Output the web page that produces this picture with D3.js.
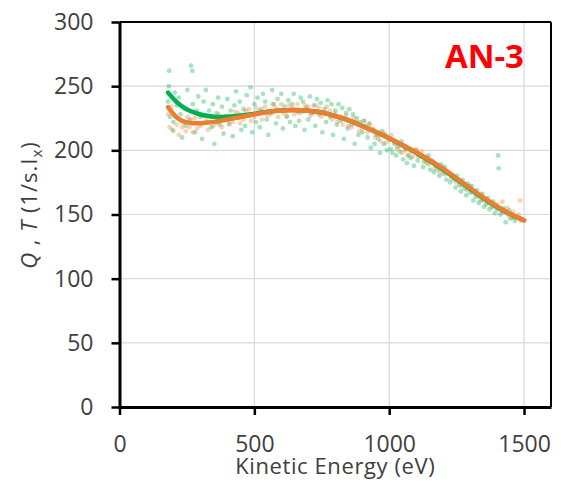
<!DOCTYPE html>
<html>
<head>
<meta charset="utf-8">
<script src="https://cdn.jsdelivr.net/npm/d3@7"></script>
<style>
  body { margin: 0; background: #fff; }
  svg { display: block; }
  .tick text { font-family: "Open Sans", sans-serif; font-weight: 400; font-size: 23px; fill: #404040; }
</style>
</head>
<body>
<div id="chart"></div>
<script>
// Chart dimensions
var width = 561, height = 483;
var margin = {top: 22, right: 10, bottom: 76, left: 119.5};

var xTicks = [0, 500, 1000, 1500];
var yTicks = [0, 50, 100, 150, 200, 250, 300];

// Measured points, Q (green), [kinetic energy, value]
var greenPts = [
  [180,238],[184,262],[188,226],[183,250],[200,222],[205,245],[212,235],[196,216],
  [220,241],[226,228],[232,210],[240,233],[246,219],[252,247],[260,224],[265,266],
  [270,262],[272,236],[280,214],[286,231],[292,242],[300,226],[306,209],[312,238],
  [320,247],[326,222],[332,231],[340,218],[346,236],[352,205],[360,229],[366,241],
  [372,220],[380,234],[386,213],[392,226],[400,240],[406,221],[412,231],[420,211],
  [426,235],[432,246],[440,225],[446,238],[452,216],[460,232],[466,219],[472,243],
  [480,227],[486,249],[492,214],[500,236],[506,222],[512,241],[520,218],[526,232],
  [532,244],[540,238],[546,224],[552,212],[560,229],[566,247],[572,236],[580,221],
  [586,240],[592,231],[600,244],[606,217],[612,234],[620,226],[626,239],[632,222],
  [640,236],[646,244],[652,219],[660,230],[666,223],[672,241],[680,238],[686,216],
  [692,233],[700,224],[706,242],[712,229],[720,235],[726,219],[732,240],[740,228],
  [746,237],[752,214],[760,232],[766,222],[772,239],[780,226],[786,236],[792,212],
  [800,231],[806,220],[812,236],[820,223],[826,233],[832,209],[840,229],[846,217],
  [852,232],[860,220],[866,228],[872,205],[880,225],[886,212],[892,222],[900,214],
  [906,223],[912,219],[920,210],[926,221],[932,202],[940,216],[946,205],[952,212],
  [960,209],[966,198],[972,215],[980,205],[986,212],[992,200],[1000,209],[1006,201],
  [1012,198],[1020,205],[1026,196],[1032,203],[1040,199],[1046,207],[1052,193],
  [1060,201],[1066,190],[1072,196],[1080,194],[1086,200],[1092,188],[1100,200],
  [1106,192],[1112,196],[1120,195],[1126,187],[1132,192],[1140,190],[1146,196],
  [1152,185],[1160,191],[1166,183],[1172,188],[1180,185],[1186,180],[1192,189],
  [1200,182],[1206,187],[1212,177],[1220,182],[1226,175],[1232,180],[1240,177],
  [1246,171],[1252,180],[1260,173],[1266,168],[1272,177],[1280,170],[1286,165],
  [1292,174],[1300,167],[1306,172],[1312,161],[1320,164],[1326,169],[1332,159],
  [1340,161],[1346,166],[1352,156],[1360,158],[1366,163],[1372,154],[1380,156],
  [1386,160],[1392,151],[1400,154],[1404,196],[1406,186],[1412,150],[1420,152],
  [1426,155],[1432,144],[1440,150],[1446,153],[1452,147],[1460,148],[1466,145]
];

// Measured points, T (orange)
var orangePts = [
  [180,228],[186,218],[192,234],[200,215],[206,226],[212,220],[220,212],[226,224],
  [232,218],[240,221],[246,215],[252,226],[260,218],[266,224],[272,214],[280,225],
  [288,217],[300,219],[308,227],[320,223],[328,216],[340,226],[348,219],[360,221],
  [368,228],[380,218],[388,226],[400,227],[408,220],[420,222],[428,230],[440,229],
  [448,221],[460,224],[468,231],[480,232],[488,223],[500,226],[508,233],[520,231],
  [528,224],[540,234],[548,227],[560,228],[568,236],[580,233],[588,226],[600,236],
  [608,229],[620,227],[628,235],[640,233],[648,228],[660,236],[668,229],[680,230],
  [688,235],[700,234],[708,227],[720,229],[728,235],[740,233],[748,226],[760,228],
  [768,234],[780,231],[788,224],[800,229],[808,222],[820,226],[828,220],[840,227],
  [848,219],[860,218],[868,225],[880,222],[888,215],[900,217],[908,223],[920,214],
  [928,220],[940,217],[948,210],[960,212],[968,207],[980,214],[988,206],[1000,208],
  [1008,212],[1020,206],[1028,201],[1040,203],[1048,198],[1060,200],[1068,196],
  [1080,199],[1088,195],[1100,201],[1108,195],[1120,199],[1128,191],[1140,195],
  [1148,189],[1160,192],[1168,186],[1180,188],[1188,183],[1200,186],[1208,181],
  [1220,183],[1228,178],[1240,180],[1248,175],[1260,177],[1268,172],[1280,174],
  [1288,169],[1300,172],[1308,167],[1320,168],[1328,164],[1340,166],[1348,161],
  [1360,162],[1368,159],[1380,160],[1388,156],[1400,158],[1408,154],[1420,160],
  [1428,152],[1440,155],[1448,147],[1460,152],[1468,147],[1480,150],[1486,161],[1488,145]
];

// Fitted curves
var greenFit = [
  [180,245],[200,240],[225,235],[250,231.5],[300,227.5],[350,226],[400,226],[450,227],
  [500,228.5],[557,230.5],[600,231],[650,231.5],[700,231],[750,229.8],[800,226.8],
  [850,223.5],[900,219],[950,214.5],[1000,209.5],[1050,204],[1100,198],[1150,192],
  [1200,185],[1250,177.5],[1300,170],[1350,162.5],[1400,155.5],[1450,150],[1500,145.5]
];
var orangeFit = [
  [180,233.6],[200,228],[220,224],[243,222],[270,221],[300,221],[350,222],[400,224],
  [450,226],[500,228],[557,230.3],[600,231],[650,231.5],[700,231],[750,229.8],[800,226.8],
  [850,223.5],[900,219],[950,214.5],[1000,209.5],[1050,204.3],[1100,198.6],[1150,192.6],
  [1200,185.8],[1250,178.3],[1300,170.6],[1350,163],[1400,156],[1450,150.2],[1500,145.5]
];

var green = "#00B050", orange = "#ED7D31";
var textColor = "#404040";

var svg = d3.select("#chart").append("svg")
    .attr("width", width)
    .attr("height", height);

var x = d3.scaleLinear().domain([0, 1600]).range([margin.left, width - margin.right]);
var y = d3.scaleLinear().domain([0, 300]).range([height - margin.bottom, margin.top]);

// Gridlines
svg.append("g").selectAll("line")
    .data(xTicks.filter(function (d) { return d > 0; }))
    .enter().append("line")
    .attr("x1", function (d) { return x(d); }).attr("x2", function (d) { return x(d); })
    .attr("y1", y(0)).attr("y2", y(300))
    .attr("stroke", "#d9d9d9").attr("stroke-width", 1.2);
svg.append("g").selectAll("line")
    .data(yTicks.filter(function (d) { return d > 0; }))
    .enter().append("line")
    .attr("y1", function (d) { return y(d); }).attr("y2", function (d) { return y(d); })
    .attr("x1", x(0)).attr("x2", x(1600))
    .attr("stroke", "#d9d9d9").attr("stroke-width", 1.2);

// Scatter points
function dots(pts, color) {
    svg.append("g").selectAll("circle")
        .data(pts)
        .enter().append("circle")
        .attr("cx", function (d) { return x(d[0]); })
        .attr("cy", function (d) { return y(d[1]); })
        .attr("r", 2.4)
        .attr("fill", color)
        .attr("opacity", 0.35);
}
dots(greenPts, green);
dots(orangePts, orange);

// Fit lines
var line = d3.line()
    .x(function (d) { return x(d[0]); })
    .y(function (d) { return y(d[1]); })
    .curve(d3.curveBasis);
svg.append("path").attr("d", line(greenFit))
    .attr("fill", "none").attr("stroke", green).attr("stroke-width", 4.5)
    .attr("stroke-linecap", "round");
svg.append("path").attr("d", line(orangeFit))
    .attr("fill", "none").attr("stroke", orange).attr("stroke-width", 4.5)
    .attr("stroke-linecap", "round");

// Frame (top / right)
svg.append("line").attr("x1", x(0)).attr("x2", x(1600)).attr("y1", y(300)).attr("y2", y(300))
    .attr("stroke", "#000").attr("stroke-width", 2);
svg.append("line").attr("x1", x(1600)).attr("x2", x(1600)).attr("y1", y(300)).attr("y2", y(0))
    .attr("stroke", "#000").attr("stroke-width", 2);

// Axes
var yAxis = svg.append("g")
    .attr("transform", "translate(" + x(0) + ",0)")
    .call(d3.axisLeft(y).tickValues(yTicks).tickFormat(d3.format("d"))
        .tickSize(8).tickPadding(18).tickSizeOuter(0));
var xAxis = svg.append("g")
    .attr("transform", "translate(0," + y(0) + ")")
    .call(d3.axisBottom(x).tickValues(xTicks).tickFormat(d3.format("d"))
        .tickSize(8).tickPadding(21).tickSizeOuter(0));
[xAxis, yAxis].forEach(function (a) {
    a.select(".domain").attr("stroke", "#000").attr("stroke-width", 3);
    a.selectAll(".tick line").attr("stroke", "#000").attr("stroke-width", 2.5);
});

// Axis titles
svg.append("text")
    .attr("x", (x(0) + x(1600)) / 2)
    .attr("y", 474)
    .attr("text-anchor", "middle")
    .style("font-family", "Open Sans, sans-serif")
    .style("font-size", "22px").style("letter-spacing", "0.6px").style("fill", textColor)
    .text("Kinetic Energy (eV)");

var yl = svg.append("text")
    .attr("transform", "translate(37,205) rotate(-90)")
    .attr("text-anchor", "middle")
    .style("font-family", "Open Sans, sans-serif")
    .style("font-size", "22px").style("letter-spacing", "1px").style("fill", textColor);
yl.append("tspan").style("font-style", "italic").text("Q");
yl.append("tspan").text(" , ");
yl.append("tspan").style("font-style", "italic").text("T");
yl.append("tspan").text(" (1/s.I");
yl.append("tspan").attr("dy", 5).style("font-size", "15px").text("x");
yl.append("tspan").attr("dy", -5).text(")");

// Sample label
svg.append("text")
    .attr("x", 524)
    .attr("y", 68)
    .attr("text-anchor", "end")
    .style("font-family", "Open Sans, sans-serif").style("font-weight", 700)
    .style("font-size", "33px").style("fill", "#FF0000")
    .text("AN-3");
</script>
</body>
</html>
